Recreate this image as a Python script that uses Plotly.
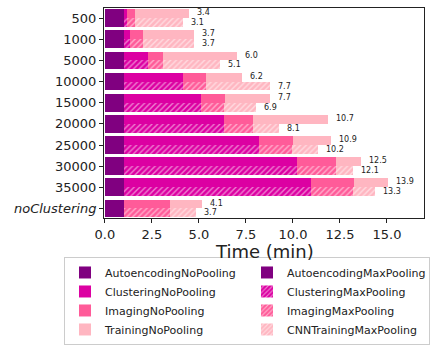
import numpy as np
import plotly.graph_objects as go

categories = ["500", "1000", "5000", "10000", "15000", "20000", "25000", "30000", "35000", "noClustering"]

# segment durations (minutes), NoPooling
autoenc_np = [1.0, 1.0, 1.0, 1.0, 1.0, 1.0, 1.0, 1.0, 1.0, 1.0]
cluster_np = [0.15, 0.33, 1.30, 3.15, 4.10, 5.33, 7.19, 9.21, 9.96, 0.0]
imaging_np = [0.45, 0.67, 0.79, 1.22, 1.27, 1.54, 1.81, 2.08, 2.28, 2.46]
training_np = [2.87, 2.75, 3.93, 1.92, 2.40, 3.99, 2.02, 1.33, 1.81, 1.70]

# segment durations (minutes), MaxPooling
autoenc_mp = [1.0, 1.0, 1.0, 1.0, 1.0, 1.0, 1.0, 1.0, 1.0, 1.0]
cluster_mp = [0.15, 0.33, 1.30, 3.15, 4.10, 5.33, 7.19, 9.21, 9.96, 0.0]
imaging_mp = [0.45, 0.67, 0.79, 1.22, 1.22, 1.54, 1.76, 2.08, 2.23, 2.46]
training_mp = [2.53, 2.75, 3.03, 3.41, 1.70, 1.39, 1.38, 0.90, 1.17, 1.39]

labels_np = ["3.4", "3.7", "6.0", "6.2", "7.7", "10.7", "10.9", "12.5", "13.9", "4.1"]
labels_mp = ["3.1", "3.7", "5.1", "7.7", "6.9", "8.1", "10.2", "12.1", "13.3", "3.7"]

C_AE = "#800080"
C_CL = "#DC00A2"
C_IM = "#FF5B99"
C_TR = "#FFB6C1"

FONT = "DejaVu Sans"
idx = np.arange(len(categories))
W = 0.42
y_np = idx - W / 2
y_mp = idx + W / 2

fig = go.Figure()

def solid(name, x, color):
    fig.add_trace(go.Bar(name=name, x=x, y=y_np, orientation="h", width=W,
                         marker=dict(color=color, line=dict(width=0))))

def hatched(name, x, color, hatch=True):
    m = dict(color=color, line=dict(width=0))
    if hatch:
        m["pattern"] = dict(shape="/", fgcolor="white", bgcolor=color, size=4, solidity=0.35)
    fig.add_trace(go.Bar(name=name, x=x, y=y_mp, orientation="h", width=W, marker=m))

solid("AutoencodingNoPooling", autoenc_np, C_AE)
hatched("AutoencodingMaxPooling", autoenc_mp, C_AE, hatch=False)
solid("ClusteringNoPooling", cluster_np, C_CL)
hatched("ClusteringMaxPooling", cluster_mp, C_CL)
solid("ImagingNoPooling", imaging_np, C_IM)
hatched("ImagingMaxPooling", imaging_mp, C_IM)
solid("TrainingNoPooling", training_np, C_TR)
hatched("CNNTrainingMaxPooling", training_mp, C_TR)

tot_np = np.array(autoenc_np) + np.array(cluster_np) + np.array(imaging_np) + np.array(training_np)
tot_mp = np.array(autoenc_mp) + np.array(cluster_mp) + np.array(imaging_mp) + np.array(training_mp)

for i in idx:
    fig.add_annotation(x=tot_np[i], y=y_np[i], text=labels_np[i], showarrow=False,
                       xanchor="left", yanchor="middle", xshift=6, yshift=1,
                       font=dict(family=FONT, size=8, color="#222"))
    fig.add_annotation(x=tot_mp[i], y=y_mp[i], text=labels_mp[i], showarrow=False,
                       xanchor="left", yanchor="middle", xshift=6, yshift=0,
                       font=dict(family=FONT, size=8, color="#222"))

# x-axis title as annotation (closer to tick labels, like the reference)
fig.add_annotation(xref="paper", yref="paper", x=0.5, y=-0.1, text="Time (min)",
                   showarrow=False, xanchor="center", yanchor="top",
                   font=dict(family=FONT, size=18, color="#222"))

ticktext = categories[:-1] + ["<i>" + categories[-1] + "</i>"]

fig.update_layout(
    width=430, height=350,
    margin=dict(l=104, r=6, t=8, b=131),
    barmode="stack",
    bargap=0,
    plot_bgcolor="white", paper_bgcolor="white",
    font=dict(family=FONT, color="#222"),
    showlegend=True,
    legend=dict(
        orientation="h", x=-0.125, y=-0.18, xanchor="left", yanchor="top",
        font=dict(family=FONT, size=11, color="#222"),
        bordercolor="#cccccc", borderwidth=1, bgcolor="white",
        entrywidth=137, entrywidthmode="pixels",
        traceorder="normal", itemwidth=30, tracegroupgap=0,
    ),
    xaxis=dict(
        range=[-0.05, 16.97], tickvals=[0, 2.5, 5, 7.5, 10, 12.5, 15],
        ticktext=["0.0", "2.5", "5.0", "7.5", "10.0", "12.5", "15.0"],
        ticks="outside", ticklen=4, tickcolor="#222", showline=True, linecolor="#222",
        linewidth=1, mirror=True, showgrid=False, zeroline=False,
        tickfont=dict(family=FONT, size=13, color="#222"),
    ),
    yaxis=dict(
        range=[9.45, -0.48], tickvals=list(idx), ticktext=ticktext,
        ticks="outside", ticklen=4, tickcolor="#222", showline=True, linecolor="#222",
        linewidth=1, mirror=True, showgrid=False, zeroline=False,
        tickfont=dict(family=FONT, size=13, color="#222"),
    ),
)

fig.write_html("out.html")
